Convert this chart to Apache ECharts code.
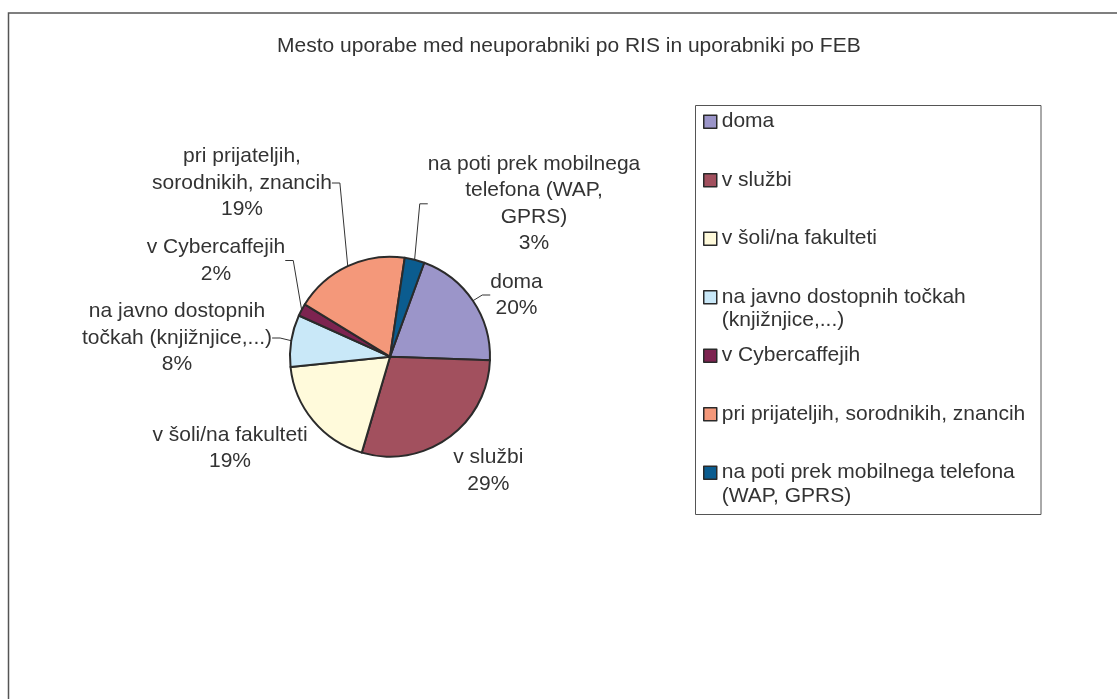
<!DOCTYPE html>
<html>
<head>
<meta charset="utf-8">
<script src="https://cdn.jsdelivr.net/npm/echarts@6/dist/echarts.min.js"></script>
<style>
  html, body { margin: 0; padding: 0; background: #fff; }
  #pie { width: 1117px; height: 699px; }
</style>
</head>
<body>
<div id="pie"></div>
<script>
// podatki
var categories = [
  'doma',
  'v službi',
  'v šoli/na fakulteti',
  'na javno dostopnih točkah (knjižnjice,...)',
  'v Cybercaffejih',
  'pri prijateljih, sorodnikih, znancih',
  'na poti prek mobilnega telefona (WAP, GPRS)'
];
var shares = [20.0, 29.0, 18.8, 8.4, 2.0, 18.6, 3.2];
// kako se imena prelomijo ob torti in v legendi
var labelLines = [
  'doma',
  'v službi',
  'v šoli/na fakulteti',
  'na javno dostopnih\ntočkah (knjižnjice,...)',
  'v Cybercaffejih',
  'pri prijateljih,\nsorodnikih, znancih',
  'na poti prek mobilnega\ntelefona (WAP,\nGPRS)'
];
var legendLines = [
  'doma',
  'v službi',
  'v šoli/na fakulteti',
  'na javno dostopnih točkah\n(knjižnjice,...)',
  'v Cybercaffejih',
  'pri prijateljih, sorodnikih, znancih',
  'na poti prek mobilnega telefona\n(WAP, GPRS)'
];
var colors = ['#9b95c9', '#a2505e', '#fffadb', '#c9e8f8', '#7d2350', '#f4987a', '#0b5c8f'];

var FONT = '"Liberation Sans", Arial, sans-serif';
var TXT = '#333333';
var FS = 21;
var LH = 23.5;              // višina vrstice v legendi
var PIE_C = [390, 356.7];
var noLeader = [1, 2];      // rezini brez vodilne črte
// kam so bile oznake premaknjene (odmik središča oznake od središča torte)
var labelOffset = [
  [126.5, -61.7], [98.3, 114.1], [-160, 91.3], [-213, -18.7],
  [-174, -96.2], [-148, -173.7], [144, -152.9]
];

var myPie = echarts.init(document.getElementById('pie'));

var pieData = [];
for (var i = 0; i < categories.length; i++) {
  var item = { name: categories[i], value: shares[i] };
  if (noLeader.indexOf(i) >= 0) item.labelLine = { show: false };
  pieData.push(item);
}

var option = {
  animation: false,
  color: colors,
  title: {
    text: 'Mesto uporabe med neuporabniki po RIS in uporabniki po FEB',
    left: 272,
    top: 31,
    textStyle: { fontFamily: FONT, fontSize: FS, fontWeight: 'normal', color: TXT }
  },
  legend: {
    orient: 'vertical',
    left: 698,
    top: 121.7 - 1.5 * LH - 5,
    icon: 'rect',
    itemWidth: 13,
    itemHeight: 13,
    itemGap: 58.5 - 3 * LH,
    selectedMode: false,
    data: categories,
    itemStyle: { borderColor: '#2a2a2a', borderWidth: 1.5 },
    formatter: function (name) {
      var t = legendLines[categories.indexOf(name)];
      // prazna prva vrstica, da je ikona poravnana s prvo vrstico besedila
      return ' \n' + (t.indexOf('\n') >= 0 ? t : t + '\n ');
    },
    textStyle: { fontFamily: FONT, fontSize: FS, color: TXT, lineHeight: LH }
  },
  graphic: [
    { type: 'rect', shape: { x: 8.5, y: 13, width: 1200, height: 800 },
      style: { fill: 'none', stroke: '#555', lineWidth: 1.5 }, silent: true },
    { type: 'rect', shape: { x: 695.5, y: 105.5, width: 345.5, height: 409 },
      style: { fill: 'none', stroke: '#555', lineWidth: 1 }, silent: true }
  ],
  series: [{
    type: 'pie',
    center: PIE_C,
    radius: 100,
    startAngle: 70,
    clockwise: true,
    percentPrecision: 0,
    itemStyle: { borderColor: '#2b2b2b', borderWidth: 2 },
    emphasis: { disabled: true },
    label: {
      position: 'outside',
      alignTo: 'none',
      formatter: function (p) {
        var rows = labelLines[p.dataIndex].split('\n');
        rows.push(p.percent + '%');
        return rows.map(function (r) { return '{t|' + r + '}'; }).join('\n');
      },
      rich: {
        t: { align: 'center', fontFamily: FONT, fontSize: FS, lineHeight: 26.5, color: TXT }
      }
    },
    labelLine: { length: 10, length2: 8, lineStyle: { color: '#333', width: 1 } },
    labelLayout: function (p) {
      var o = labelOffset[p.dataIndex];
      return { x: PIE_C[0] + o[0], y: PIE_C[1] + o[1], align: 'center', verticalAlign: 'middle' };
    },
    data: pieData
  }]
};

option && myPie.setOption(option);
</script>
</body>
</html>
